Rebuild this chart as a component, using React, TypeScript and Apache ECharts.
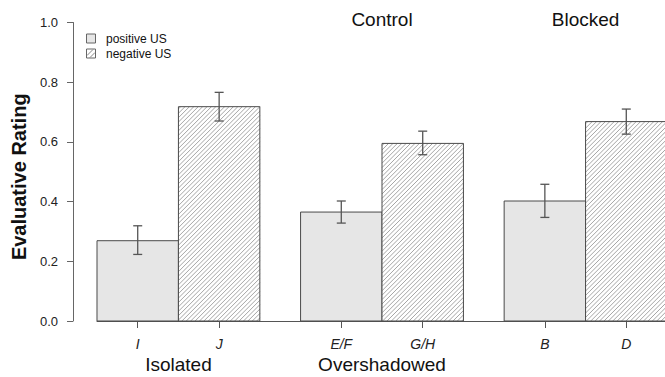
import React, { useEffect, useRef } from "react";
import * as echarts from "echarts";

// ---- data ----
const categories = ["I", "J", "E/F", "G/H", "B", "D"];
const groupOf = [0, 0, 1, 1, 2, 2];
const usTypeOf = ["positive", "negative", "positive", "negative", "positive", "negative"];
const means = [0.269, 0.718, 0.365, 0.595, 0.402, 0.668];
const errLow = [0.223, 0.670, 0.328, 0.557, 0.347, 0.626];
const errHigh = [0.319, 0.766, 0.402, 0.636, 0.458, 0.710];
const bottomGroupLabels = ["Isolated", "Overshadowed", ""];
const topGroupLabels = ["", "Control", "Blocked"];
const legendLabels = ["positive US", "negative US"];
const yAxisTitle = "Evaluative Rating";

// ---- layout helpers (bar-width units, half-bar space between groups) ----
const GROUP_STEP = 2.5;
const barsPerGroup = 2;
const centers = categories.map((_, i) => {
  const g = groupOf[i];
  const k = groupOf.slice(0, i).filter((x) => x === g).length;
  return g * GROUP_STEP + k + 0.5;
});
const groupCenters = bottomGroupLabels.map((_, g) => g * GROUP_STEP + barsPerGroup / 2);
const X_MAX = (bottomGroupLabels.length - 1) * GROUP_STEP + barsPerGroup;

const FONT = "Liberation Sans, Arial, sans-serif";

function nearestIndex(arr: number[], v: number) {
  let best = 0;
  for (let i = 1; i < arr.length; i++) if (Math.abs(arr[i] - v) < Math.abs(arr[best] - v)) best = i;
  return best;
}

function makeSeriesData(type: string) {
  const out: number[][] = [];
  categories.forEach((_, i) => {
    if (usTypeOf[i] === type) out.push([centers[i], means[i], errLow[i], errHigh[i], type === "negative" ? 1 : 0]);
  });
  return out;
}

function renderBar(params: any, api: any) {
  const xc = api.value(0);
  const v = api.value(1);
  const lo = api.value(2);
  const hi = api.value(3);
  const neg = api.value(4) === 1;
  const tl = api.coord([xc - 0.5, v]);
  const br = api.coord([xc + 0.5, 0]);
  const x0 = tl[0], y0 = tl[1], x1 = br[0], y1 = br[1];
  const children: any[] = [];
  children.push({
    type: "rect",
    shape: { x: x0, y: y0, width: x1 - x0, height: y1 - y0 },
    style: { fill: neg ? "#ffffff" : "#e6e6e6", stroke: "none" },
  });
  if (neg) {
    const step = 4.4;
    for (let c = x0 + y0 + step / 2; c < x1 + y1; c += step) {
      const xa = Math.max(x0, c - y1);
      const xb = Math.min(x1, c - y0);
      if (xb - xa > 0.2) {
        children.push({
          type: "line",
          shape: { x1: xa, y1: c - xa, x2: xb, y2: c - xb },
          style: { stroke: "#959595", lineWidth: 0.85 },
        });
      }
    }
  }
  children.push({
    type: "rect",
    shape: { x: x0, y: y0, width: x1 - x0, height: y1 - y0 },
    style: { fill: "none", stroke: "#4a4a4a", lineWidth: 1 },
  });
  const pTop = api.coord([xc, hi]);
  const pBot = api.coord([xc, lo]);
  const cap = 4.5;
  const es = { stroke: "#555555", lineWidth: 1.3 };
  children.push({ type: "line", shape: { x1: pTop[0], y1: pTop[1], x2: pBot[0], y2: pBot[1] }, style: es });
  children.push({ type: "line", shape: { x1: pTop[0] - cap, y1: pTop[1], x2: pTop[0] + cap, y2: pTop[1] }, style: es });
  children.push({ type: "line", shape: { x1: pBot[0] - cap, y1: pBot[1], x2: pBot[0] + cap, y2: pBot[1] }, style: es });
  return { type: "group", children };
}

function legendGraphic() {
  const items: any[] = [];
  legendLabels.forEach((label, i) => {
    const cy = 38.5 + i * 15;
    items.push({
      type: "rect",
      shape: { x: 86.5, y: cy - 4.5, width: 9, height: 9 },
      style: { fill: i === 0 ? "#e6e6e6" : "#ffffff", stroke: "#666", lineWidth: 1 },
    });
    if (i === 1) {
      items.push({ type: "line", shape: { x1: 87, y1: cy + 2, x2: 93, y2: cy - 4 }, style: { stroke: "#777", lineWidth: 0.9 } });
      items.push({ type: "line", shape: { x1: 90, y1: cy + 4, x2: 95, y2: cy - 1 }, style: { stroke: "#777", lineWidth: 0.9 } });
    }
    items.push({
      type: "text",
      x: 106,
      y: cy,
      style: { text: label, fontFamily: FONT, fontSize: 12, fill: "#111", verticalAlign: "middle", align: "left" },
    });
  });
  return items;
}

export default function App() {
  const ref = useRef<HTMLDivElement>(null);
  useEffect(() => {
    document.body.style.margin = "0";
    const chart = echarts.init(ref.current!, undefined, { renderer: "svg" });
    const bottomVals = groupCenters.filter((_, g) => bottomGroupLabels[g] !== "");
    const topVals = groupCenters.filter((_, g) => topGroupLabels[g] !== "");
    chart.setOption({
      animation: false,
      backgroundColor: "#ffffff",
      grid: { left: 97, right: -2, top: 22.5, bottom: 56, containLabel: false, outerBoundsMode: "none" },
      xAxis: [
        {
          type: "value",
          min: 0,
          max: X_MAX,
          position: "bottom",
          axisLine: { show: true, onZero: false, lineStyle: { color: "#555", width: 1 } },
          axisTick: { show: true, customValues: centers, length: 7, lineStyle: { color: "#555" } },
          axisLabel: {
            customValues: centers,
            margin: 16,
            formatter: (v: number) => categories[nearestIndex(centers, v)],
            fontFamily: FONT,
            fontStyle: "italic",
            fontSize: 14,
            color: "#222",
          },
          splitLine: { show: false },
        },
        {
          type: "value",
          min: 0,
          max: X_MAX,
          position: "bottom",
          axisLine: { show: false, onZero: false },
          axisTick: { show: false },
          axisLabel: {
            customValues: bottomVals,
            margin: 34,
            formatter: (v: number) => bottomGroupLabels[nearestIndex(groupCenters, v)],
            fontFamily: FONT,
            fontSize: 19,
            color: "#111",
          },
          splitLine: { show: false },
        },
        {
          type: "value",
          min: 0,
          max: X_MAX,
          position: "top",
          axisLine: { show: false, onZero: false },
          axisTick: { show: false },
          axisLabel: {
            customValues: topVals,
            margin: -6,
            formatter: (v: number) => topGroupLabels[nearestIndex(groupCenters, v)],
            fontFamily: FONT,
            fontSize: 19,
            color: "#111",
          },
          splitLine: { show: false },
        },
      ],
      yAxis: {
        type: "value",
        min: 0,
        max: 1,
        interval: 0.2,
        offset: 24,
        axisLine: { show: true, onZero: false, lineStyle: { color: "#666", width: 1 } },
        axisTick: { show: true, length: 6, lineStyle: { color: "#666" } },
        axisLabel: {
          margin: 15,
          formatter: (v: number) => v.toFixed(1),
          fontFamily: FONT,
          fontSize: 13,
          color: "#222",
        },
        splitLine: { show: false },
        name: yAxisTitle,
        nameLocation: "middle",
        nameRotate: 90,
        nameGap: 43,
        nameTextStyle: { fontFamily: FONT, fontSize: 20, fontWeight: "bold", color: "#111", padding: [0, 10, 0, 0] },
      },
      series: [
        {
          name: legendLabels[0],
          type: "custom",
          renderItem: renderBar,
          encode: { x: 0, y: 1 },
          data: makeSeriesData("positive"),
          clip: false,
        },
        {
          name: legendLabels[1],
          type: "custom",
          renderItem: renderBar,
          encode: { x: 0, y: 1 },
          data: makeSeriesData("negative"),
          clip: false,
        },
      ],
      graphic: legendGraphic(),
    });
    return () => chart.dispose();
  }, []);
  return <div ref={ref} style={{ width: 665, height: 377 }} />;
}
